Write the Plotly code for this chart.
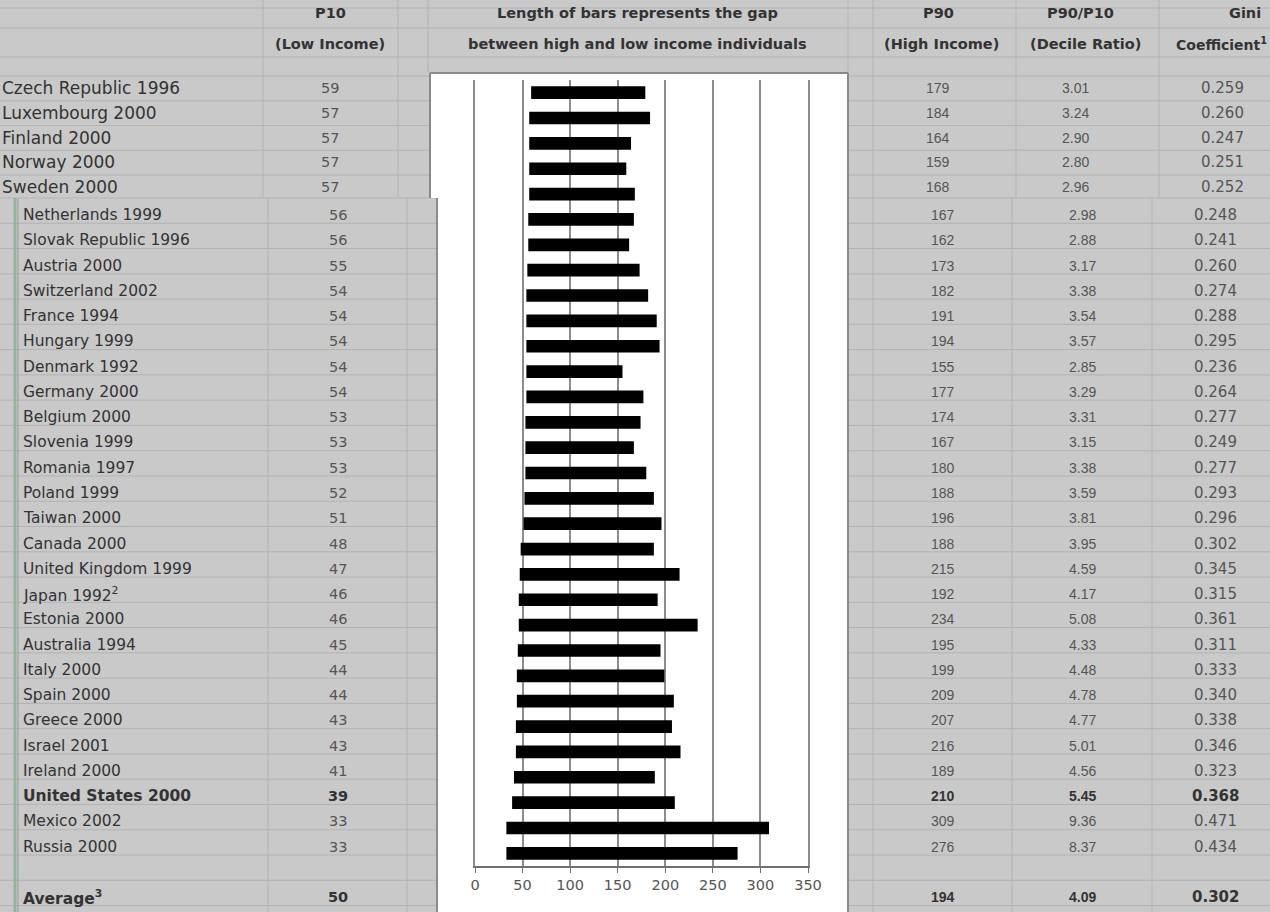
import plotly.graph_objects as go

W, H = 1270, 912

countries = ["Czech Republic 1996", "Luxembourg 2000", "Finland 2000", "Norway 2000", "Sweden 2000",
             "Netherlands 1999", "Slovak Republic 1996", "Austria 2000", "Switzerland 2002", "France 1994",
             "Hungary 1999", "Denmark 1992", "Germany 2000", "Belgium 2000", "Slovenia 1999",
             "Romania 1997", "Poland 1999", "Taiwan 2000", "Canada 2000", "United Kingdom 1999",
             "Japan 1992<sup>2</sup>", "Estonia 2000", "Australia 1994", "Italy 2000", "Spain 2000",
             "Greece 2000", "Israel 2001", "Ireland 2000", "United States 2000", "Mexico 2002", "Russia 2000"]
p10 = [59, 57, 57, 57, 57, 56, 56, 55, 54, 54, 54, 54, 54, 53, 53, 53, 52, 51, 48, 47,
       46, 46, 45, 44, 44, 43, 43, 41, 39, 33, 33]
p90 = [179, 184, 164, 159, 168, 167, 162, 173, 182, 191, 194, 155, 177, 174, 167, 180, 188, 196, 188, 215,
       192, 234, 195, 199, 209, 207, 216, 189, 210, 309, 276]
decile_ratio = ["3.01", "3.24", "2.90", "2.80", "2.96", "2.98", "2.88", "3.17", "3.38", "3.54",
                "3.57", "2.85", "3.29", "3.31", "3.15", "3.38", "3.59", "3.81", "3.95", "4.59",
                "4.17", "5.08", "4.33", "4.48", "4.78", "4.77", "5.01", "4.56", "5.45", "9.36", "8.37"]
gini = ["0.259", "0.260", "0.247", "0.251", "0.252", "0.248", "0.241", "0.260", "0.274", "0.288",
        "0.295", "0.236", "0.264", "0.277", "0.249", "0.277", "0.293", "0.296", "0.302", "0.345",
        "0.315", "0.361", "0.311", "0.333", "0.340", "0.338", "0.346", "0.323", "0.368", "0.471", "0.434"]
bold_rows = ["United States 2000"]
average_label = "Average<sup>3</sup>"
average_values = ["50", "194", "4.09", "0.302"]
x_ticks = [0, 50, 100, 150, 200, 250, 300, 350]

BG = "#c9c9c9"
GRID = "#b3b3b3"
NAME_C = "#333333"
VAL_C = "#555555"


def px(x):
    return x / W


def py(y):
    return 1 - y / H


def row_center(k):
    if k < 5:
        return 88 + 24.75 * k
    return 215 + 25.27 * (k - 5)


gap = [b - a for a, b in zip(p10, p90)]

fig = go.Figure()
fig.add_trace(go.Bar(
    y=countries, x=gap, base=p10, orientation="h",
    marker=dict(color="black", line=dict(width=0)), width=0.5,
    hoverinfo="skip", showlegend=False,
))

shapes = []
# spreadsheet horizontal lines
hlines = [8, 28, 57]
hlines += [76 + 24.75 * k for k in range(5)]
hlines += [198 + 25.27 * (k - 5) for k in range(5, 34)]
for y in hlines:
    shapes.append(dict(type="line", xref="paper", yref="paper", x0=0, x1=1,
                       y0=py(y), y1=py(y), line=dict(color=GRID, width=1), layer="below"))
# vertical lines
for x in [263, 398, 848, 873, 1016, 1159]:
    shapes.append(dict(type="line", xref="paper", yref="paper", x0=px(x), x1=px(x),
                       y0=py(0), y1=py(198), line=dict(color=GRID, width=1), layer="below"))
shapes.append(dict(type="line", xref="paper", yref="paper", x0=px(428), x1=px(428),
                   y0=py(0), y1=py(73), line=dict(color=GRID, width=1), layer="below"))
for x in [268, 407, 873, 1012, 1152]:
    shapes.append(dict(type="line", xref="paper", yref="paper", x0=px(x), x1=px(x),
                       y0=py(198), y1=py(912), line=dict(color=GRID, width=1), layer="below"))
shapes.append(dict(type="line", xref="paper", yref="paper", x0=px(15), x1=px(15),
                   y0=py(198), y1=py(912), line=dict(color="#8fb89a", width=3), layer="below"))
shapes.append(dict(type="line", xref="paper", yref="paper", x0=px(18), x1=px(18),
                   y0=py(198), y1=py(912), line=dict(color="#9a9a9a", width=1), layer="below"))
# white chart box (two parts)
shapes.append(dict(type="rect", xref="paper", yref="paper", x0=px(430), x1=px(848),
                   y0=py(198), y1=py(73), fillcolor="white", line=dict(width=0), layer="below"))
shapes.append(dict(type="rect", xref="paper", yref="paper", x0=px(437), x1=px(848),
                   y0=py(912), y1=py(198), fillcolor="white", line=dict(width=0), layer="below"))
for (x0, y0, x1, y1) in [(430, 73, 848, 73), (430, 73, 430, 198), (437, 198, 437, 912),
                         (848, 73, 848, 912)]:
    shapes.append(dict(type="line", xref="paper", yref="paper", x0=px(x0), x1=px(x1),
                       y0=py(y0), y1=py(y1), line=dict(color="#8a8a8a", width=2), layer="below"))

ann = []


def text(x, y, s, size=14, color=NAME_C, family="DejaVu Sans", anchor="center", bold=False):
    if bold:
        s = "<b>" + s + "</b>"
    ann.append(dict(x=px(x), y=py(y), xref="paper", yref="paper", text=s, showarrow=False,
                    xanchor=anchor, yanchor="middle",
                    font=dict(family=family, size=size, color=color)))


HF = dict(size=14.5, color="#333333", family="DejaVu Sans", bold=True)
text(330, 13, "P10", **HF)
text(330, 44, "(Low Income)", **HF)
text(637, 13, "Length of bars represents the gap", **HF)
text(637, 44, "between high and low income individuals", **HF)
text(938, 13, "P90", **HF)
text(942, 44, "(High Income)", **HF)
text(1080, 13, "P90/P10", **HF)
text(1085, 44, "(Decile Ratio)", **HF)
text(1245, 13, "Gini", **HF)
text(1269, 44, "Coefficient<sup>1</sup>", size=14, color="#333333", anchor="right", bold=True)

for k, name in enumerate(countries):
    y = row_center(k)
    b = name in bold_rows
    top = k < 5
    vc = NAME_C if b else VAL_C
    text(0 if top else 21, y, name, size=17 if top else 15.5, color=NAME_C, anchor="left", bold=b)
    text(330 if top else 338, y, str(p10[k]), size=14.5, color=vc, bold=b)
    text(938 if top else 943, y, str(p90[k]), size=14, color=vc, family="Liberation Sans", bold=b)
    text(1075 if top else 1082, y, decile_ratio[k], size=14, color=vc, family="Liberation Sans", bold=b)
    text(1222 if top else 1215, y, gini[k], size=15, color=vc, bold=b)

ya = row_center(32)
text(21, ya, average_label, size=15.5, color=NAME_C, anchor="left", bold=True)
text(338, ya, average_values[0], size=14.5, color=NAME_C, bold=True)
text(943, ya, average_values[1], size=14, color=NAME_C, family="Liberation Sans", bold=True)
text(1082, ya, average_values[2], size=14, color=NAME_C, family="Liberation Sans", bold=True)
text(1215, ya, average_values[3], size=15, color=NAME_C, bold=True)

fig.update_layout(
    width=W, height=H, margin=dict(l=0, r=0, t=0, b=0, autoexpand=False),
    paper_bgcolor=BG, plot_bgcolor="white",
    shapes=shapes, annotations=ann, bargap=0.5,
    xaxis=dict(domain=[px(475), px(808)], range=[0, 350], tickvals=x_ticks,
               showgrid=True, gridcolor="#8c8c8c", gridwidth=2, zeroline=False,
               showline=True, linecolor="#707070", linewidth=2,
               ticks="outside", ticklen=5, tickcolor="#707070", tickwidth=1,
               tickfont=dict(family="DejaVu Sans", size=14.5, color="#555555"),
               fixedrange=True),
    yaxis=dict(domain=[py(866), py(80)], type="category", categoryorder="array",
               categoryarray=countries, autorange="reversed", showticklabels=False,
               showgrid=False, zeroline=False, showline=True, mirror=True, linecolor="#8c8c8c",
               linewidth=2, ticks="", fixedrange=True),
)

fig.write_html("out.html")
